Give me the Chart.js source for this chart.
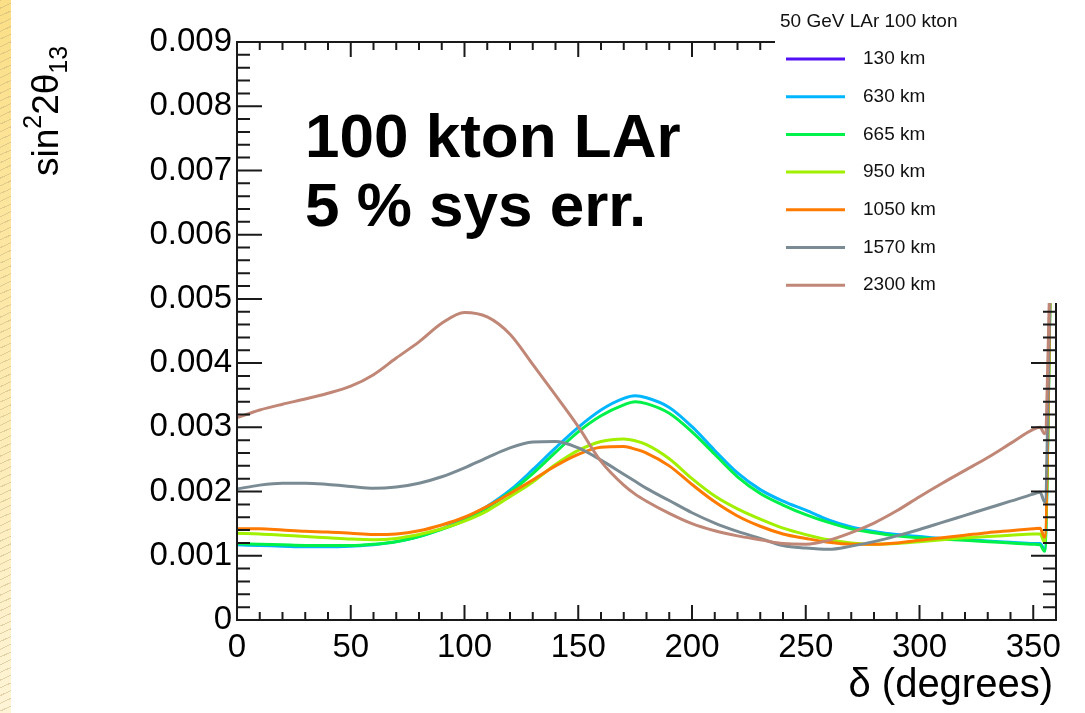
<!DOCTYPE html>
<html>
<head>
<meta charset="utf-8">
<script src="https://cdn.jsdelivr.net/npm/chart.js@4.4.1/dist/chart.umd.min.js"></script>
<style>
  html, body { margin: 0; padding: 0; background: #fff; }
  #wrap { position: relative; width: 1085px; height: 713px; }
  #strip {
    position: absolute; left: 0; top: 0; width: 11px; height: 713px;
    background:
      repeating-linear-gradient(155deg, rgba(190,170,120,0.45) 0 1px, rgba(0,0,0,0) 1px 7px),
      linear-gradient(#fbdf86, #fff4d6);
  }
  canvas { position: absolute; left: 0; top: 0; }
</style>
</head>
<body>
<div id="wrap">
  <div id="strip"></div>
  <canvas id="deltaChart" width="1085" height="713"></canvas>
</div>
<script>
// delta (degrees) sample points, values in units of 1e-3
const delta = [0, 10, 20, 30, 40, 50, 60, 70, 80, 90, 100, 110, 120, 130, 140, 150, 160, 170, 175, 180,
               190, 200, 210, 220, 230, 240, 250, 260, 270, 280, 290, 300, 310, 320, 330, 340, 350,
               353, 355, 358];

const km130 = []; // off scale in the reference, nothing drawn
const km630 = [1.17, 1.16, 1.15, 1.14, 1.14, 1.15, 1.17, 1.22, 1.30, 1.42, 1.57, 1.77, 2.02, 2.34, 2.68, 3.00, 3.27, 3.45, 3.49, 3.46,
               3.31, 3.01, 2.64, 2.29, 2.03, 1.85, 1.71, 1.56, 1.45, 1.38, 1.33, 1.30, 1.27, 1.25, 1.23, 1.21, 1.19,
               1.19, 1.10, 6.3];
const km665 = [1.19, 1.18, 1.17, 1.16, 1.16, 1.16, 1.18, 1.22, 1.30, 1.41, 1.55, 1.75, 1.99, 2.28, 2.61, 2.93, 3.18, 3.35, 3.40, 3.37,
               3.22, 2.93, 2.58, 2.23, 1.97, 1.79, 1.64, 1.52, 1.42, 1.36, 1.31, 1.28, 1.26, 1.24, 1.22, 1.20, 1.18,
               1.17, 1.07, 6.3];
const km950 = [1.35, 1.34, 1.32, 1.30, 1.28, 1.26, 1.25, 1.27, 1.33, 1.42, 1.54, 1.70, 1.92, 2.15, 2.42, 2.64, 2.78, 2.82, 2.79, 2.73,
               2.51, 2.20, 1.93, 1.73, 1.57, 1.43, 1.33, 1.25, 1.20, 1.18, 1.19, 1.22, 1.25, 1.28, 1.30, 1.32, 1.34,
               1.34, 1.21, 6.3];
const km1050 = [1.42, 1.42, 1.40, 1.38, 1.37, 1.35, 1.33, 1.34, 1.39, 1.48, 1.60, 1.77, 1.97, 2.18, 2.40, 2.58, 2.69, 2.70, 2.66, 2.60,
                2.40, 2.11, 1.84, 1.62, 1.46, 1.34, 1.27, 1.21, 1.18, 1.18, 1.20, 1.24, 1.28, 1.32, 1.36, 1.39, 1.42,
                1.43, 1.29, 6.3];
const km1570 = [2.04, 2.10, 2.13, 2.13, 2.11, 2.08, 2.05, 2.07, 2.13, 2.23, 2.37, 2.53, 2.68, 2.77, 2.78, 2.68, 2.49, 2.27, 2.16, 2.05,
                1.86, 1.67, 1.51, 1.38, 1.27, 1.16, 1.12, 1.10, 1.15, 1.22, 1.31, 1.41, 1.52, 1.63, 1.74, 1.85, 1.96,
                1.99, 1.84, 6.3];
const km2300 = [3.15, 3.27, 3.36, 3.44, 3.53, 3.64, 3.82, 4.08, 4.33, 4.62, 4.79, 4.72, 4.45, 3.98, 3.50, 3.01, 2.47, 2.10, 1.96, 1.85,
                1.66, 1.50, 1.39, 1.31, 1.25, 1.19, 1.18, 1.24, 1.36, 1.51, 1.70, 1.92, 2.13, 2.33, 2.53, 2.75, 2.97,
                3.00, 2.90, 6.3];

const seriesNames = ["130 km", "630 km", "665 km", "950 km", "1050 km", "1570 km", "2300 km"];
const seriesValues = [km130, km630, km665, km950, km1050, km1570, km2300];
const seriesColors = ["#5210f5", "#00b6ff", "#00f24a", "#a0f000", "#ff7a00", "#7a8b94", "#c08676"];

const legendTitle = "50 GeV LAr 100 kton";
const noteLines = ["100 kton LAr", "5 % sys err."];

const FONT = "'Liberation Sans', Arial, Helvetica, sans-serif";

const datasets = seriesValues.map((vals, i) => ({
    label: seriesNames[i],
    data: vals.map((v, j) => ({ x: delta[j], y: v / 1000 })),
    borderColor: seriesColors[i],
    borderWidth: 3,
    pointRadius: 0,
    fill: false,
    cubicInterpolationMode: "monotone",
    order: seriesValues.length - i
}));

// ROOT-like frame, inner ticks, titles, legend
const decorPlugin = {
    id: "decor",
    afterDatasetsDraw(chart) {
        const ctx = chart.ctx;
        const a = chart.chartArea;
        const xs = chart.scales.x;
        const ys = chart.scales.y;
        ctx.save();
        ctx.strokeStyle = "#1a1a1a";
        ctx.lineWidth = 2;
        ctx.strokeRect(a.left, a.top, a.right - a.left, a.bottom - a.top);

        ctx.beginPath();
        for (let i = 0; i <= 36; i++) {
            const px = xs.getPixelForValue(i * 10);
            const len = i % 5 === 0 ? 15 : 8;
            ctx.moveTo(px, a.bottom); ctx.lineTo(px, a.bottom - len);
            ctx.moveTo(px, a.top); ctx.lineTo(px, a.top + len);
        }
        for (let i = 0; i <= 45; i++) {
            const py = ys.getPixelForValue(i * 0.0002);
            const len = i % 5 === 0 ? 25 : 13;
            ctx.moveTo(a.left, py); ctx.lineTo(a.left + len, py);
            ctx.moveTo(a.right, py); ctx.lineTo(a.right - len, py);
        }
        ctx.stroke();

        // legend box (white, covers the frame corner)
        ctx.fillStyle = "#fff";
        ctx.fillRect(775, 0, 1085 - 775, 303);
        ctx.fillStyle = "#111";
        ctx.font = "19px " + FONT;
        ctx.textBaseline = "middle";
        ctx.textAlign = "left";
        ctx.fillText(legendTitle, 780, 22);
        chart.data.datasets.forEach((ds, i) => {
            const y = 59 + i * 37.7;
            ctx.strokeStyle = ds.borderColor;
            ctx.lineWidth = 3;
            ctx.beginPath();
            ctx.moveTo(786, y); ctx.lineTo(845, y);
            ctx.stroke();
            ctx.fillStyle = "#111";
            ctx.fillText(ds.label, 863, y);
        });

        // big annotation
        ctx.font = "bold 62px " + FONT;
        ctx.textBaseline = "alphabetic";
        ctx.fillStyle = "#000";
        ctx.fillText(noteLines[0], 305, 157);
        ctx.fillText(noteLines[1], 305, 226);

        // x title
        ctx.font = "40px " + FONT;
        ctx.textAlign = "right";
        ctx.fillText("\u03b4 (degrees)", 1053, 697);

        // y title sin^2 2theta_13, rotated
        ctx.translate(58, 176);
        ctx.rotate(-Math.PI / 2);
        ctx.textAlign = "left";
        let x = 0;
        const put = (t, size, dy) => {
            ctx.font = size + "px " + FONT;
            ctx.fillText(t, x, dy);
            x += ctx.measureText(t).width;
        };
        put("sin", 37, 0);
        put("2", 25, -17);
        put("2\u03b8", 37, 0);
        put("13", 25, 9);
        ctx.restore();
    }
};

new Chart(document.getElementById("deltaChart"), {
    type: "line",
    data: { datasets: datasets },
    options: {
        responsive: false,
        animation: false,
        layout: { padding: { left: 0, top: 42, right: 29, bottom: 0 } },
        plugins: { legend: { display: false }, tooltip: { enabled: false } },
        scales: {
            x: {
                type: "linear",
                min: 0,
                max: 360,
                grid: { display: false, drawTicks: false },
                border: { display: false },
                ticks: {
                    stepSize: 50,
                    includeBounds: false,
                    autoSkip: false,
                    padding: 8,
                    maxRotation: 0,
                    color: "#000",
                    font: { family: FONT, size: 33 }
                },
                afterFit(scale) { scale.height = 93; }
            },
            y: {
                min: 0,
                max: 0.009,
                grid: { display: false, drawTicks: false },
                border: { display: false },
                ticks: {
                    stepSize: 0.001,
                    padding: 5,
                    color: "#000",
                    font: { family: FONT, size: 33 },
                    callback: v => (Math.abs(v) < 1e-9 ? "0" : v.toFixed(3))
                },
                afterFit(scale) { scale.width = 237; }
            }
        }
    },
    plugins: [decorPlugin]
});
</script>
</body>
</html>
